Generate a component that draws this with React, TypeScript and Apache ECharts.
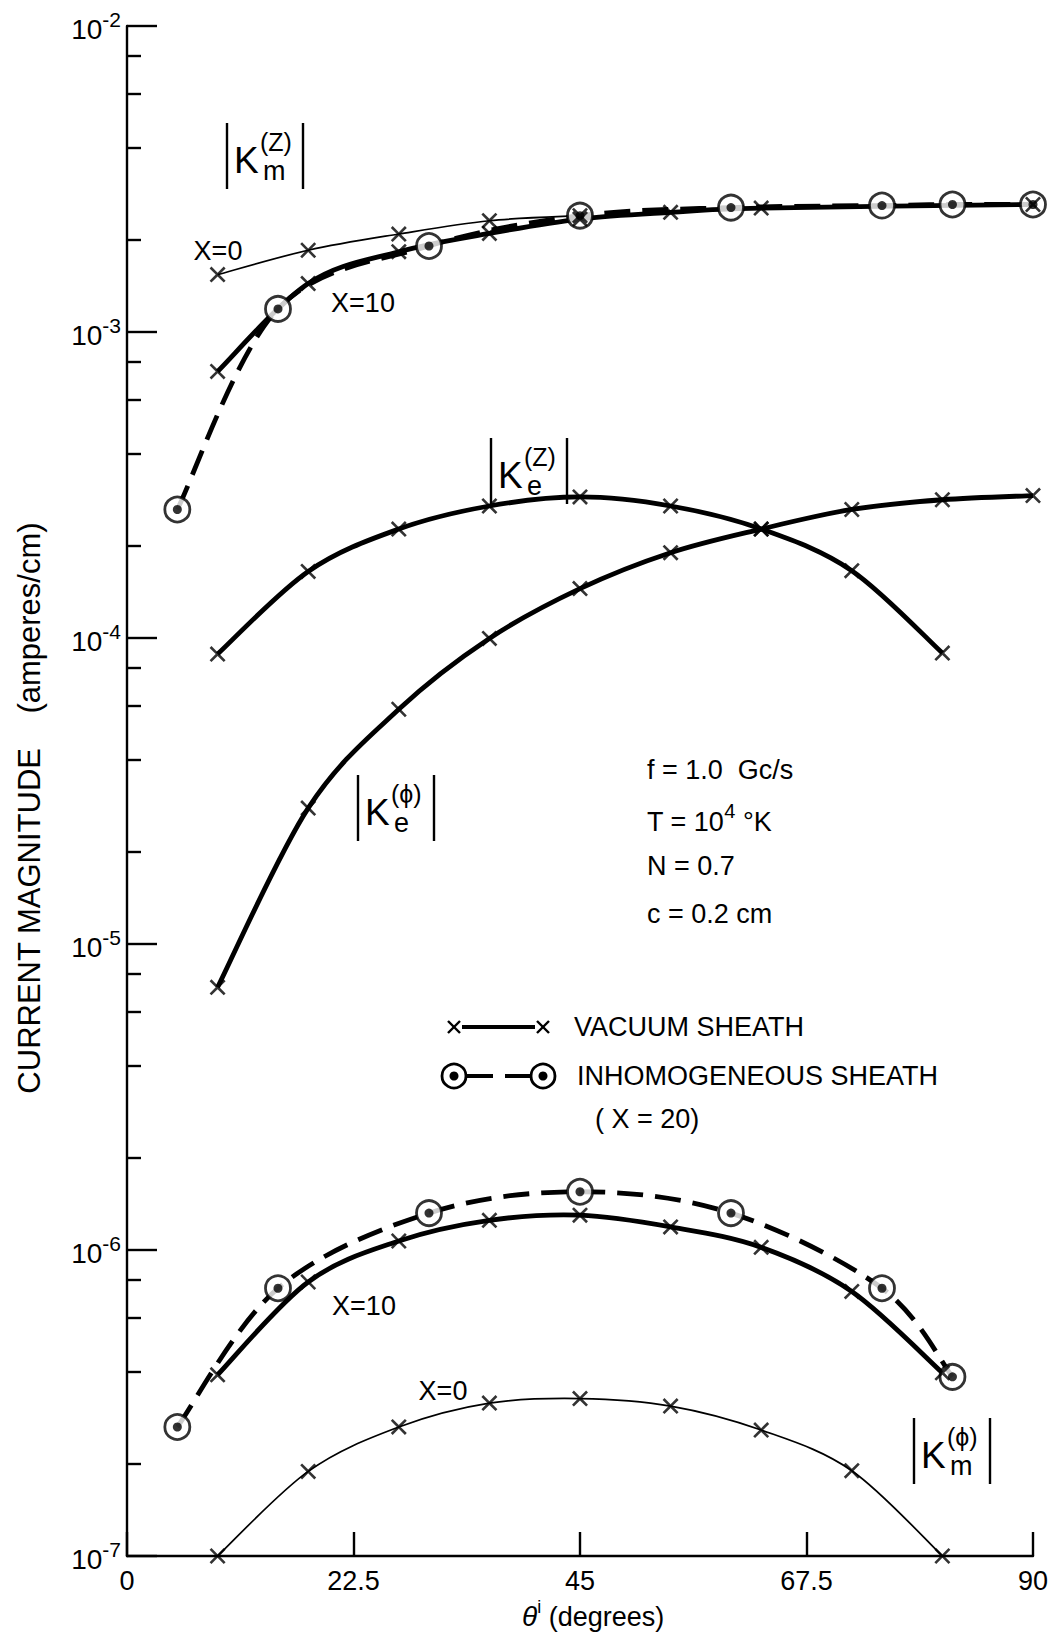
import React, { useEffect, useRef } from "react";
import * as echarts from "echarts";

// ---- axis ticks ----
const xTicks = [0, 22.5, 45, 67.5, 90];
const yDecades = [1e-7, 1e-6, 1e-5, 1e-4, 1e-3, 1e-2];
const minorMultipliers = [2, 4, 6, 8];

// ---- |Km(z)| ----
const thetaKmzX0 = [9, 18, 27, 36, 45];
const kmzVacX0 = [1.54e-3, 1.85e-3, 2.09e-3, 2.31e-3, 2.4e-3];
const thetaKmzX10 = [9, 18, 27, 36, 45, 54, 63, 90];
const kmzVacX10 = [7.43e-4, 1.44e-3, 1.83e-3, 2.1e-3, 2.34e-3, 2.46e-3, 2.54e-3, 2.61e-3];
const thetaKmzInh = [5, 15, 30, 45, 60, 75, 82, 90];
const kmzInh = [2.63e-4, 1.19e-3, 1.91e-3, 2.4e-3, 2.55e-3, 2.59e-3, 2.61e-3, 2.61e-3];

// ---- |Ke(z)| ----
const thetaKez = [9, 18, 27, 36, 45, 54, 63, 72, 81];
const kezVac = [8.86e-5, 1.65e-4, 2.27e-4, 2.7e-4, 2.89e-4, 2.7e-4, 2.27e-4, 1.66e-4, 8.93e-5];

// ---- |Ke(phi)| ----
const thetaKephi = [9, 18, 27, 36, 45, 54, 63, 72, 81, 90];
const kephiVac = [7.22e-6, 2.78e-5, 5.85e-5, 9.97e-5, 1.45e-4, 1.9e-4, 2.27e-4, 2.63e-4, 2.83e-4, 2.92e-4];

// ---- |Km(phi)| ----
const thetaKmphi = [9, 18, 27, 36, 45, 54, 63, 72, 81];
const kmphiVacX10 = [3.91e-7, 7.86e-7, 1.07e-6, 1.25e-6, 1.3e-6, 1.19e-6, 1.02e-6, 7.32e-7, 3.97e-7];
const kmphiVacX0 = [1.0e-7, 1.89e-7, 2.64e-7, 3.16e-7, 3.27e-7, 3.09e-7, 2.58e-7, 1.9e-7, 1.0e-7];
const thetaKmphiInh = [5, 15, 30, 45, 60, 75, 82];
const kmphiInh = [2.64e-7, 7.5e-7, 1.32e-6, 1.55e-6, 1.32e-6, 7.5e-7, 3.85e-7];

const FONT = '"Liberation Sans", "DejaVu Sans", sans-serif';
const CROSS =
  "path://M0,1.4L1.4,0L6,4.6L10.6,0L12,1.4L7.4,6L12,10.6L10.6,12L6,7.4L1.4,12L0,10.6L4.6,6Z";

const pairs = (xs: number[], ys: number[]) => xs.map((x, i) => [x, ys[i]]);

// smooth curve through the data points (Catmull-Rom), mapped with the axes' own scales
function curveS(data: number[][], width: number, dashed: boolean) {
  return {
    type: "custom",
    coordinateSystem: "cartesian2d",
    data,
    silent: true,
    clip: true,
    z: 2,
    renderItem: (params: any, api: any) => {
      if (params.dataIndex !== 0) return null;
      const p = data.map((d) => api.coord(d));
      const n = p.length;
      let d = `M${p[0][0]},${p[0][1]}`;
      for (let i = 0; i < n - 1; i++) {
        const p0 = p[Math.max(0, i - 1)];
        const p1 = p[i];
        const p2 = p[i + 1];
        const p3 = p[Math.min(n - 1, i + 2)];
        const c1x = p1[0] + (p2[0] - p0[0]) / 6;
        const c1y = p1[1] + (p2[1] - p0[1]) / 6;
        const c2x = p2[0] - (p3[0] - p1[0]) / 6;
        const c2y = p2[1] - (p3[1] - p1[1]) / 6;
        d += `C${c1x},${c1y},${c2x},${c2y},${p2[0]},${p2[1]}`;
      }
      return {
        type: "path",
        shape: { pathData: d },
        style: {
          stroke: "#000",
          fill: "none",
          lineWidth: width,
          lineDash: dashed ? [26, 12] : null,
          lineCap: "butt",
        },
      };
    },
  };
}
function crossS(data: number[][]) {
  return {
    type: "scatter",
    data,
    symbol: CROSS,
    symbolSize: 16,
    silent: true,
    z: 5,
    itemStyle: { color: "#000" },
  };
}
function ringS(data: number[][]) {
  return [
    {
      type: "scatter",
      data,
      symbol: "circle",
      symbolSize: 25,
      silent: true,
      z: 3,
      itemStyle: { color: "#fff", borderColor: "#000", borderWidth: 2.8 },
    },
    {
      type: "scatter",
      data,
      symbol: "circle",
      symbolSize: 9,
      silent: true,
      z: 4,
      itemStyle: { color: "#000" },
    },
  ];
}

function kLabel(cx: number, y0: number, sup: string, sub: string) {
  const st = { stroke: "#000", lineWidth: 2.4 };
  return {
    type: "group",
    children: [
      { type: "line", shape: { x1: cx - 38, y1: y0, x2: cx - 38, y2: y0 + 66 }, style: st },
      { type: "line", shape: { x1: cx + 38, y1: y0, x2: cx + 38, y2: y0 + 66 }, style: st },
      {
        type: "text",
        x: cx - 31,
        y: y0 + 37,
        style: { text: "K", fontSize: 37, fontFamily: FONT, fill: "#000", align: "left", verticalAlign: "middle" },
      },
      {
        type: "text",
        x: cx - 5,
        y: y0 + 19,
        style: { text: sup, fontSize: 25, fontFamily: FONT, fill: "#000", align: "left", verticalAlign: "middle" },
      },
      {
        type: "text",
        x: cx - 2,
        y: y0 + 48,
        style: { text: sub, fontSize: 27, fontFamily: FONT, fill: "#000", align: "left", verticalAlign: "middle" },
      },
    ],
  };
}

function txt(x: number, y: number, text: string, fontSize = 26, align = "left", extra: any = {}) {
  return {
    type: "text",
    x,
    y,
    style: { text, fontSize, fontFamily: FONT, fill: "#000", align, verticalAlign: "middle", ...extra },
  };
}

function legendCross(x: number, y: number) {
  const st = { stroke: "#000", lineWidth: 2.4 };
  return {
    type: "group",
    children: [
      { type: "line", shape: { x1: x - 6, y1: y - 6, x2: x + 6, y2: y + 6 }, style: st },
      { type: "line", shape: { x1: x - 6, y1: y + 6, x2: x + 6, y2: y - 6 }, style: st },
    ],
  };
}
function legendRing(x: number, y: number) {
  return {
    type: "group",
    children: [
      { type: "circle", shape: { cx: x, cy: y, r: 12 }, style: { fill: "#fff", stroke: "#000", lineWidth: 2.8 } },
      { type: "circle", shape: { cx: x, cy: y, r: 4.5 }, style: { fill: "#000" } },
    ],
  };
}

export default function App() {
  const ref = useRef<HTMLDivElement>(null);
  useEffect(() => {
    document.body.style.margin = "0";
    if (!ref.current) return;
    const chart = echarts.init(ref.current, null, { renderer: "svg" });
    const minorTicks: number[] = [];
    yDecades.slice(0, -1).forEach((d) => minorMultipliers.forEach((m) => minorTicks.push(d * m)));

    const series: any[] = [
      // curves
      curveS(pairs(thetaKmzX0, kmzVacX0), 1.7, false),
      curveS(pairs(thetaKmzX10, kmzVacX10), 4.8, false),
      curveS(pairs(thetaKmzInh, kmzInh), 4.8, true),
      curveS(pairs(thetaKez, kezVac), 4.8, false),
      curveS(pairs(thetaKephi, kephiVac), 4.8, false),
      curveS(pairs(thetaKmphi, kmphiVacX10), 4.8, false),
      curveS(pairs(thetaKmphi, kmphiVacX0), 1.7, false),
      curveS(pairs(thetaKmphiInh, kmphiInh), 4.8, true),
      // markers
      ...ringS(pairs(thetaKmzInh, kmzInh)),
      ...ringS(pairs(thetaKmphiInh, kmphiInh)),
      crossS(pairs(thetaKmzX0, kmzVacX0)),
      crossS(pairs(thetaKmzX10, kmzVacX10)),
      crossS(pairs(thetaKez, kezVac)),
      crossS(pairs(thetaKephi, kephiVac)),
      crossS(pairs(thetaKmphi, kmphiVacX10)),
      crossS(pairs(thetaKmphi, kmphiVacX0)),
    ];

    const graphic: any[] = [
      kLabel(265, 123, "(Z)", "m"),
      kLabel(529, 438, "(Z)", "e"),
      kLabel(396, 775, "(ϕ)", "e"),
      kLabel(952, 1418, "(ϕ)", "m"),
      txt(218, 251, "X=0", 27, "center"),
      txt(363, 303, "X=10", 27, "center"),
      txt(364, 1306, "X=10", 27, "center"),
      txt(443, 1391, "X=0", 27, "center"),
      txt(647, 770, "f = 1.0  Gc/s", 27),
      {
        type: "text",
        x: 647,
        y: 818,
        style: {
          text: "{a|T = 10}{s|4}{a| °K}",
          fontFamily: FONT,
          fill: "#000",
          align: "left",
          verticalAlign: "middle",
          rich: {
            a: { fontSize: 27, fontFamily: FONT, lineHeight: 34, verticalAlign: "bottom" },
            s: { fontSize: 20, fontFamily: FONT, lineHeight: 34, verticalAlign: "top" },
          },
        },
      },
      txt(647, 866, "N = 0.7", 27),
      txt(647, 914, "c = 0.2 cm", 27),
      // legend
      { type: "line", shape: { x1: 462, y1: 1027, x2: 535, y2: 1027 }, style: { stroke: "#000", lineWidth: 4 } },
      legendCross(454, 1027),
      legendCross(543, 1027),
      txt(574, 1027, "VACUUM SHEATH", 27),
      { type: "line", shape: { x1: 465, y1: 1076, x2: 493, y2: 1076 }, style: { stroke: "#000", lineWidth: 4 } },
      { type: "line", shape: { x1: 505, y1: 1076, x2: 532, y2: 1076 }, style: { stroke: "#000", lineWidth: 4 } },
      legendRing(454, 1076),
      legendRing(543, 1076),
      txt(577, 1076, "INHOMOGENEOUS SHEATH", 27),
      txt(595, 1119, "( X = 20)", 27),
      // axis titles
      {
        type: "text",
        x: 29,
        y: 808,
        rotation: Math.PI / 2,
        style: {
          text: "CURRENT MAGNITUDE    (amperes/cm)",
          fontSize: 31,
          fontFamily: FONT,
          fill: "#000",
          align: "center",
          verticalAlign: "middle",
        },
      },
      {
        type: "text",
        x: 522,
        y: 1614,
        style: {
          text: "{t|θ}{s|i}{a| (degrees)}",
          fontFamily: FONT,
          fill: "#000",
          align: "left",
          verticalAlign: "middle",
          rich: {
            t: { fontSize: 28, fontStyle: "italic", fontFamily: FONT, lineHeight: 32, verticalAlign: "bottom" },
            s: { fontSize: 18, fontFamily: FONT, lineHeight: 32, verticalAlign: "top" },
            a: { fontSize: 27, fontFamily: FONT, lineHeight: 32, verticalAlign: "bottom" },
          },
        },
      },
    ];

    chart.setOption({
      animation: false,
      backgroundColor: "#fff",
      grid: { left: 127, top: 26, width: 906, height: 1530, containLabel: false },
      xAxis: {
        type: "value",
        min: 0,
        max: 90,
        interval: 22.5,
        axisLine: { show: true, lineStyle: { color: "#000", width: 2.4 } },
        axisTick: { show: true, inside: true, length: 24, lineStyle: { color: "#000", width: 2.4 } },
        splitLine: { show: false },
        axisLabel: {
          color: "#000",
          fontSize: 27,
          fontFamily: FONT,
          margin: 11,
          formatter: (v: number) => (xTicks.includes(v) ? String(v) : ""),
        },
      },
      yAxis: [
        {
          type: "log",
          logBase: 10,
          min: 1e-7,
          max: 1e-2,
          axisLine: { show: true, lineStyle: { color: "#000", width: 2.4 } },
          axisTick: {
            show: true,
            inside: true,
            length: 30,
            customValues: yDecades,
            lineStyle: { color: "#000", width: 2.4 },
          },
          splitLine: { show: false },
          minorTick: { show: false },
          axisLabel: {
            customValues: yDecades,
            margin: 6,
            color: "#000",
            fontFamily: FONT,
            formatter: (v: number) => `{b|10}{s|${Math.round(Math.log10(v))}}`,
            rich: {
              b: { fontSize: 28, fontFamily: FONT, color: "#000", lineHeight: 34, verticalAlign: "bottom" },
              s: { fontSize: 21, fontFamily: FONT, color: "#000", lineHeight: 34, verticalAlign: "top" },
            },
          },
        },
        {
          type: "log",
          logBase: 10,
          min: 1e-7,
          max: 1e-2,
          position: "left",
          axisLine: { show: false },
          axisLabel: { show: false },
          splitLine: { show: false },
          axisTick: {
            show: true,
            inside: true,
            length: 14,
            customValues: minorTicks,
            lineStyle: { color: "#000", width: 2.4 },
          },
        },
      ],
      series,
      graphic,
    });
    return () => chart.dispose();
  }, []);
  return <div ref={ref} style={{ width: 1051, height: 1636 }} />;
}
